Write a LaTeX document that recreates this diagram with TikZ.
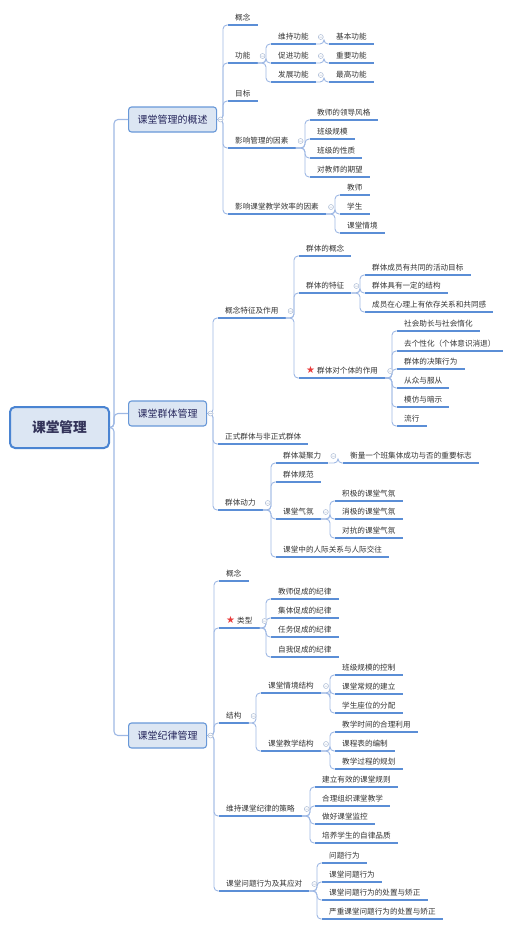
\documentclass[tikz,border=0pt]{standalone}
\usepackage{fontspec}
\usepackage{xcolor}
\usepackage{tikz}
\newfontfamily\cjk{Noto Sans CJK SC}
\newfontfamily\symfont{DejaVu Sans}
\definecolor{ulblue}{RGB}{91,142,214}
\definecolor{lnblue}{RGB}{158,184,228}
\definecolor{boxfill}{RGB}{220,230,243}
\definecolor{boxline}{RGB}{104,152,216}
\definecolor{rootline}{RGB}{74,132,210}
\definecolor{txtgray}{RGB}{51,51,51}
\definecolor{foldgray}{RGB}{170,186,212}
\definecolor{starred}{RGB}{232,60,60}

\newcommand{\starmark}{{\symfont\color{starred}\fontsize{10}{10}\selectfont ★}\hspace{2pt}}
\newcommand{\foldat}[1]{\draw[fold] #1 circle (2.5pt) ++(-1.4pt,0) -- ++(2.8pt,0);}
\newcommand{\branch}[2]{%
  \foreach \c in {#2}{\draw[link] (#1.south east) -| ([xshift=-5pt]\c.south west) -- (\c.south west);}
  \foldat{([shift={(5pt,7pt)}]#1.south east)}}
\newcommand{\boxbranch}[2]{%
  \foreach \c in {#2}{\draw[link] (#1.east) -| ([xshift=-5pt]\c.south west) -- (\c.south west);}
  \foldat{([xshift=3.5pt]#1.east)}}

\tikzset{
  uline/.style={draw=ulblue, line width=1.5pt},
  link/.style={draw=lnblue, line width=0.9pt, rounded corners=4pt},
  fold/.style={draw=foldgray, fill=white, line width=0.5pt},
  topic/.style={anchor=south west, font=\cjk\fontsize{7.6}{9}\selectfont, text=txtgray,
    inner xsep=7pt, inner ysep=2.5pt, text height=6pt, text depth=1.5pt,
    append after command={(\tikzlastnode.south west) edge[uline] (\tikzlastnode.south east)}},
  mainbox/.style={draw=boxline, line width=1.1pt, fill=boxfill, rounded corners=3pt,
    minimum height=25pt, inner xsep=9pt, anchor=west,
    font=\cjk\fontsize{10}{12}\selectfont, text=black!70!blue!70!gray},
  rootbox/.style={draw=rootline, line width=2pt, fill=boxfill, rounded corners=5pt,
    minimum width=99pt, minimum height=41pt,
    font=\cjk\bfseries\fontsize{13.7}{16}\selectfont, text=black!75!blue!60!gray}
}

\begin{document}
\begin{tikzpicture}[x=1pt, y=-1pt]
\useasboundingbox (0,0) rectangle (515,930);

% root and main sections
\node[rootbox] (root) at (59.5,427.5) {课堂管理};
\node[mainbox] (sA) at (128,119.5) {课堂管理的概述};
\node[mainbox] (sB) at (128,413.5) {课堂群体管理};
\node[mainbox] (sC) at (128,735.5) {课堂纪律管理};
\foreach \c in {sA,sB,sC}
  \draw[link, line width=1.1pt] (root.east) -| ([xshift=-14pt]\c.west) -- (\c.west);

% 课堂管理的概述
\foreach \n/\y/\t in {a1/25/概念, a2/63/功能, a3/101/目标, a4/148/影响管理的因素, a5/214/影响课堂教学效率的因素}
  \node[topic] (\n) at (228,\y) {\t};
\foreach \n/\y/\t in {a21/44/维持功能, a22/63/促进功能, a23/82/发展功能}
  \node[topic] (\n) at (271,\y) {\t};
\foreach \n/\y/\t in {a211/44/基本功能, a221/63/重要功能, a231/82/最高功能}
  \node[topic] (\n) at (329,\y) {\t};
\foreach \n/\y/\t in {a41/120/教师的领导风格, a42/139/班级规模, a43/158/班级的性质, a44/177/对教师的期望}
  \node[topic] (\n) at (310,\y) {\t};
\foreach \n/\y/\t in {a51/195/教师, a52/214/学生, a53/233/课堂情境}
  \node[topic] (\n) at (340,\y) {\t};
\boxbranch{sA}{a1,a2,a3,a4,a5}
\branch{a2}{a21,a22,a23}
\branch{a21}{a211}
\branch{a22}{a221}
\branch{a23}{a231}
\branch{a4}{a41,a42,a43,a44}
\branch{a5}{a51,a52,a53}

% 课堂群体管理
\foreach \n/\y/\t in {b1/318/概念特征及作用, b2/444/正式群体与非正式群体, b3/510/群体动力}
  \node[topic] (\n) at (218,\y) {\t};
\foreach \n/\y/\t in {b11/256/群体的概念, b12/293/群体的特征, b13/378/\starmark 群体对个体的作用}
  \node[topic] (\n) at (299,\y) {\t};
\foreach \n/\y/\t in {b121/275/群体成员有共同的活动目标, b122/293/群体具有一定的结构, b123/312/成员在心理上有依存关系和共同感}
  \node[topic] (\n) at (365,\y) {\t};
\foreach \n/\y/\t in {b131/331/社会助长与社会惰化, b132/351/去个性化（个体意识消退）, b133/369/群体的决策行为,
    b134/388/从众与服从, b135/407/模仿与暗示, b136/426/流行}
  \node[topic] (\n) at (397,\y) {\t};
\foreach \n/\y/\t in {b31/463/群体凝聚力, b32/482/群体规范, b33/519/课堂气氛, b34/557/课堂中的人际关系与人际交往}
  \node[topic] (\n) at (276,\y) {\t};
\node[topic] (b311) at (343,463) {衡量一个班集体成功与否的重要标志};
\foreach \n/\y/\t in {b331/501/积极的课堂气氛, b332/519/消极的课堂气氛, b333/538/对抗的课堂气氛}
  \node[topic] (\n) at (335,\y) {\t};
\boxbranch{sB}{b1,b2,b3}
\branch{b1}{b11,b12,b13}
\branch{b12}{b121,b122,b123}
\branch{b13}{b131,b132,b133,b134,b135,b136}
\branch{b3}{b31,b32,b33,b34}
\branch{b31}{b311}
\branch{b33}{b331,b332,b333}

% 课堂纪律管理
\foreach \n/\y/\t in {c1/581/概念, c2/628/\starmark 类型, c3/723/结构, c4/816/维持课堂纪律的策略, c5/891/课堂问题行为及其应对}
  \node[topic] (\n) at (219,\y) {\t};
\foreach \n/\y/\t in {c21/599/教师促成的纪律, c22/618/集体促成的纪律, c23/637/任务促成的纪律, c24/657/自我促成的纪律}
  \node[topic] (\n) at (271,\y) {\t};
\foreach \n/\y/\t in {c31/693/课堂情境结构, c32/751/课堂教学结构}
  \node[topic] (\n) at (261,\y) {\t};
\foreach \n/\y/\t in {c311/675/班级规模的控制, c312/694/课堂常规的建立, c313/713/学生座位的分配,
    c321/732/教学时间的合理利用, c322/751/课程表的编制, c323/769/教学过程的规划}
  \node[topic] (\n) at (335,\y) {\t};
\foreach \n/\y/\t in {c41/787/建立有效的课堂规则, c42/806/合理组织课堂教学, c43/824/做好课堂监控, c44/843/培养学生的自律品质}
  \node[topic] (\n) at (315,\y) {\t};
\foreach \n/\y/\t in {c51/863/问题行为, c52/882/课堂问题行为, c53/900/课堂问题行为的处置与矫正, c54/919/严重课堂问题行为的处置与矫正}
  \node[topic] (\n) at (322,\y) {\t};
\boxbranch{sC}{c1,c2,c3,c4,c5}
\branch{c2}{c21,c22,c23,c24}
\branch{c3}{c31,c32}
\branch{c31}{c311,c312,c313}
\branch{c32}{c321,c322,c323}
\branch{c4}{c41,c42,c43,c44}
\branch{c5}{c51,c52,c53,c54}
\end{tikzpicture}
\end{document}
